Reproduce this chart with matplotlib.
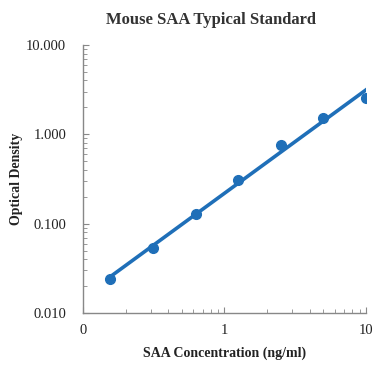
import numpy as np
import matplotlib
matplotlib.use("Agg")
import matplotlib.pyplot as plt
from matplotlib.ticker import FixedLocator, FixedFormatter, LogLocator, NullFormatter

# Standard curve data
conc = [0.156, 0.3125, 0.625, 1.25, 2.5, 5.0, 10.0]
od = [0.024, 0.054, 0.127, 0.308, 0.75, 1.53, 2.53]

x_ticks = [0.1, 1, 10]
x_labels = ["0", "1", "10"]
y_ticks = [0.01, 0.1, 1, 10]
y_labels = ["0.010", "0.100", "1.000", "10.000"]

blue = "#1f6fb8"
plt.rcParams['font.family'] = ['Liberation Serif', 'DejaVu Serif']

fig = plt.figure(figsize=(3.91, 3.90), dpi=100)
ax = fig.add_axes([0.2123, 0.197, 0.7237, 0.688])

# power trendline (least squares in log-log space)
k, b = np.polyfit(np.log10(conc), np.log10(od), 1)
xf = np.logspace(np.log10(conc[0]), np.log10(conc[-1]), 50)
ax.plot(xf, 10 ** (k * np.log10(xf) + b), color=blue, lw=2.6, zorder=2)
ax.plot(conc, od, 'o', color=blue, ms=7, zorder=3)

ax.set_xscale('log')
ax.set_yscale('log')
ax.set_xlim(0.1, 10)
ax.set_ylim(0.01, 10)

ax.xaxis.set_major_locator(FixedLocator(x_ticks))
ax.xaxis.set_major_formatter(FixedFormatter(x_labels))
ax.yaxis.set_major_locator(FixedLocator(y_ticks))
ax.yaxis.set_major_formatter(FixedFormatter(y_labels))
ax.xaxis.set_minor_locator(LogLocator(base=10, subs=np.arange(2, 10)))
ax.yaxis.set_minor_locator(LogLocator(base=10, subs=np.arange(2, 10)))
ax.xaxis.set_minor_formatter(NullFormatter())
ax.yaxis.set_minor_formatter(NullFormatter())

ax.tick_params(which='both', direction='in', color='#888888', labelsize=10.5, labelcolor='#222222')
ax.tick_params(which='major', length=4, pad=12)
ax.tick_params(which='minor', length=3)
ax.tick_params(axis='x', pad=8)

for s in ['top', 'right']:
    ax.spines[s].set_visible(False)
for s in ['left', 'bottom']:
    ax.spines[s].set_color('#888888')
    ax.spines[s].set_linewidth(1)

fig.text(0.54, 0.948, "Mouse SAA Typical Standard", ha='center', va='center',
         fontsize=12, fontweight='bold', color='#333333')
ax.set_xlabel("SAA Concentration (ng/ml)", fontsize=10, fontweight='bold', color='#222222', labelpad=7)
ax.set_ylabel("Optical Density", fontsize=10, fontweight='bold', color='#222222', labelpad=2)

fig.savefig("out.png", dpi=100, facecolor='white')
